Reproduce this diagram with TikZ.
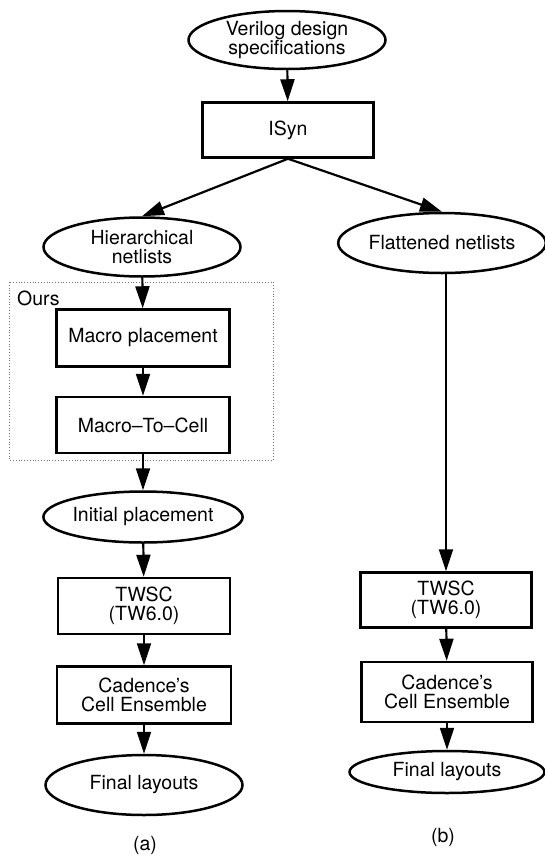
\documentclass[tikz,border=0pt]{standalone}
\usepackage{fontspec}
\setmainfont{TeX Gyre Heros}
\usetikzlibrary{shapes.geometric,arrows.meta}

\tikzset{
  every node/.style={font=\fontsize{19.5}{19}\selectfont, align=center, inner sep=0pt},
  oval/.style={ellipse, draw, line width=2.5pt, minimum width=197pt, minimum height=58pt},
  stepbox/.style={rectangle, draw, line width=2.5pt, minimum width=172pt, minimum height=56pt},
  arr/.style={line width=2.2pt, -{Triangle[length=22pt,width=14pt]}},
  groupbox/.style={draw=black!55, line width=0.8pt, dotted},
}

\begin{document}
\begin{tikzpicture}[x=1pt,y=-1pt]
\useasboundingbox (0,0) rectangle (545,860);

% common front end
\node[oval] (spec) at (287,40) {Verilog design\\specifications};
\node[stepbox, minimum width=171pt, minimum height=55pt] (isyn) at (288,130) {ISyn};

% flow (a): hierarchical
\node[oval, minimum height=59pt] (hier) at (142,247) {Hierarchical\\netlists};
\draw[groupbox] (9,282) rectangle (273,460);
\node[anchor=base west] (ours) at (17,305) {Ours};
\node[stepbox, minimum width=173pt, minimum height=57pt] (mp) at (143,338) {Macro placement};
\node[stepbox, minimum width=173pt, minimum height=56pt] (mtc) at (143,425) {Macro--To--Cell};
\node[oval, minimum width=198pt, minimum height=51pt] (initp) at (143,517) {Initial placement};
\node[stepbox] (twa) at (144,606) {TWSC\\(TW6.0)};
\node[stepbox, minimum width=174pt, minimum height=57pt] (cada) at (144,695) {Cadence's\\Cell Ensemble};
\node[oval, minimum height=60pt] (fina) at (144,785) {Final layouts};
\node (capa) at (145,845) {(a)};

% flow (b): flattened
\node[oval, minimum height=60pt] (flat) at (442,243) {Flattened netlists};
\node[stepbox, minimum width=171pt, minimum height=55pt] (twb) at (446,600) {TWSC\\(TW6.0)};
\node[stepbox, minimum width=171pt, minimum height=60pt] (cadb) at (447,692) {Cadence's\\Cell Ensemble};
\node[oval, minimum width=195pt, minimum height=42pt] (finb) at (447,772) {Final layouts};
\node (capb) at (443,837) {(b)};

% connectors
\draw[arr] (spec) -- (isyn);
\draw[arr] (isyn.south) -- (hier.north);
\draw[arr] (isyn.south) -- (flat.north);
\draw[arr] (hier) -- (mp);
\draw[arr] (mp) -- (mtc);
\draw[arr] (mtc) -- (initp);
\draw[arr] (initp) -- (twa);
\draw[arr] (twa) -- (cada);
\draw[arr] (cada) -- (fina);
\draw[arr] (twb.north |- flat.south) -- (twb.north);
\draw[arr] (twb) -- (cadb);
\draw[arr] (cadb) -- (finb);
\end{tikzpicture}
\end{document}
